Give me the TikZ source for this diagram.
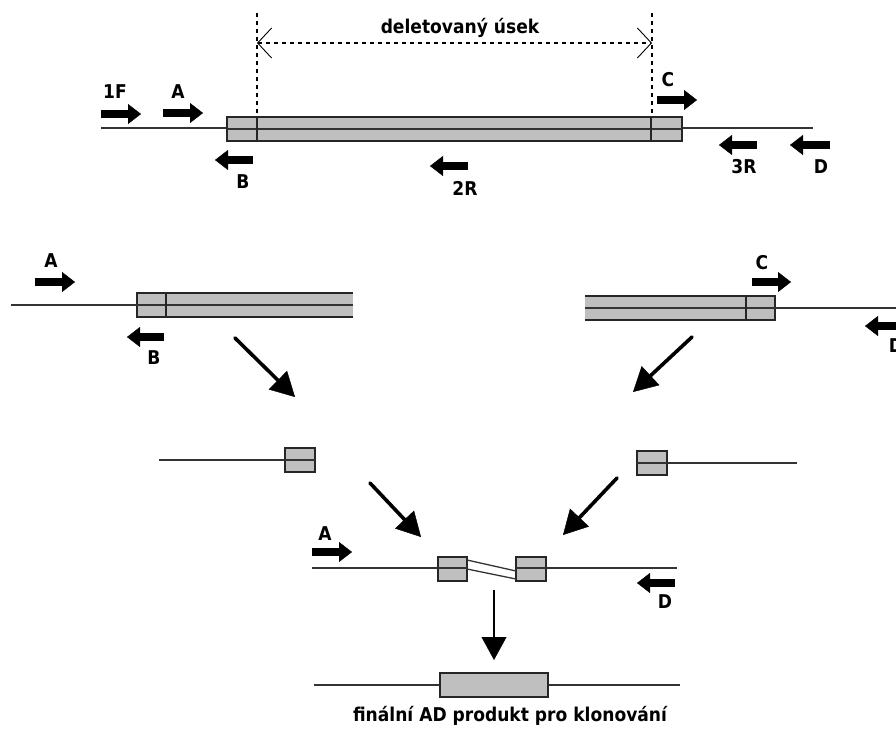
\documentclass[tikz,border=0pt]{standalone}
\usepackage{fontspec}
\setmainfont{DejaVu Sans}[FakeStretch=0.9]
\usetikzlibrary{arrows.meta}
\begin{document}
\begin{tikzpicture}[x=1pt,y=-1pt,
  dna/.style={line width=1.3pt, draw=black!80},
  seg/.style={fill=black!25, draw=black!85, line width=1.5pt},
  segline/.style={draw=black!85, line width=1.5pt},
  primer/.style={line width=8pt, -{Triangle[length=13pt,width=20pt,line width=0.4pt]}},
  lbl/.style={font=\bfseries\fontsize{19}{22}\selectfont, inner sep=0pt},
  bigarrow/.style={line width=3.6pt, line cap=round, -{Triangle[length=24pt,width=26pt,line width=0.4pt]}},
  dimline/.style={line width=1.1pt, dash pattern=on 4pt off 4pt}]
\useasboundingbox (0,0) rectangle (896,728);

% ---------- top: full gene ----------
\draw[dna] (101,128) -- (813,128);
\draw[seg] (227,117) rectangle (682,141);
\draw[dna] (227,129) -- (682,129);
\draw[segline] (257,117) -- (257,141);
\draw[segline] (651,117) -- (651,141);
\coordinate (dl) at (257,43);
\coordinate (dr) at (652,43);
\draw[dimline] (257,13) -- (257,117);
\draw[dimline] (652,13) -- (652,117);
\draw[dimline, {Straight Barb[length=14pt,width=30pt,line width=0.9pt]}-{Straight Barb[length=14pt,width=30pt,line width=0.9pt]}] (dl) -- (dr);
\node[lbl] (del) at (460,28) {deletovaný úsek};

\coordinate (p1Fa) at (101,114); \coordinate (p1Fb) at (141,114);
\coordinate (pAa) at (163,113);  \coordinate (pAb) at (203,113);
\coordinate (pBa) at (253,160);  \coordinate (pBb) at (215,160);
\coordinate (p2Ra) at (468,166); \coordinate (p2Rb) at (430,166);
\coordinate (pCa) at (657,100);  \coordinate (pCb) at (697,100);
\coordinate (p3Ra) at (757,145); \coordinate (p3Rb) at (719,145);
\coordinate (pDa) at (830,145);  \coordinate (pDb) at (790,145);
\draw[primer] (p1Fa) -- (p1Fb);
\draw[primer] (pAa) -- (pAb);
\draw[primer] (pBa) -- (pBb);
\draw[primer] (p2Ra) -- (p2Rb);
\draw[primer] (pCa) -- (pCb);
\draw[primer] (p3Ra) -- (p3Rb);
\draw[primer] (pDa) -- (pDb);
\node[lbl] (l1F) at (115,92) {1F};
\node[lbl] (lA) at (178,92) {A};
\node[lbl] (lB) at (243,182) {B};
\node[lbl] (l2R) at (465,188) {2R};
\node[lbl] (lC) at (668,80) {C};
\node[lbl] (l3R) at (744,167) {3R};
\node[lbl] (lD) at (821,167) {D};

% ---------- second row: PCR products ----------
\draw[fill=black!25, draw=none] (137,293) rectangle (353,317);
\draw[segline] (353,293) -- (137,293) -- (137,317) -- (353,317);
\draw[dna] (11,305) -- (353,305);
\draw[segline] (166,293) -- (166,317);
\coordinate (qAa) at (35,282);  \coordinate (qAb) at (75,282);
\coordinate (qBa) at (164,337); \coordinate (qBb) at (127,337);
\draw[primer] (qAa) -- (qAb);
\draw[primer] (qBa) -- (qBb);
\node[lbl] (mA) at (51,261) {A};
\node[lbl] (mB) at (154,358) {B};

\draw[fill=black!25, draw=none] (585,296) rectangle (775,320);
\draw[segline] (585,296) -- (775,296) -- (775,320) -- (585,320);
\draw[dna] (585,308) -- (896,308);
\draw[segline] (746,296) -- (746,320);
\coordinate (qCa) at (752,282); \coordinate (qCb) at (791,282);
\coordinate (qDa) at (910,326); \coordinate (qDb) at (865,326);
\draw[primer] (qCa) -- (qCb);
\draw[primer] (qDa) -- (qDb);
\node[lbl] (mC) at (762,263) {C};
\node[lbl] (mD) at (896,346) {D};

% ---------- arrows to third row ----------
\coordinate (a1s) at (235,338); \coordinate (a1e) at (295,397);
\coordinate (a2s) at (692,337); \coordinate (a2e) at (633,392);
\coordinate (a3s) at (370,483); \coordinate (a3e) at (421,537);
\coordinate (a4s) at (617,478); \coordinate (a4e) at (563,535);
\draw[bigarrow] (a1s) -- (a1e);
\draw[bigarrow] (a2s) -- (a2e);
\draw[bigarrow] (a3s) -- (a3e);
\draw[bigarrow] (a4s) -- (a4e);

% ---------- third row: trimmed pieces ----------
\draw[dna] (159,460) -- (285,460);
\draw[seg] (285,448) rectangle (315,472);
\draw[dna] (285,460) -- (315,460);

\draw[dna] (667,463) -- (797,463);
\draw[seg] (637,451) rectangle (667,475);
\draw[dna] (637,463) -- (667,463);

% ---------- fourth row: fusion ----------
\draw[dna] (312,568) -- (438,568);
\draw[dna] (546,568) -- (677,568);
\draw[seg] (438,557) rectangle (467,581);
\draw[dna] (438,568) -- (467,568);
\draw[seg] (516,557) rectangle (546,581);
\draw[dna] (516,568) -- (546,568);
\draw[dna] (467,560) -- (516,571);
\draw[dna] (467,569) -- (516,579);
\coordinate (rAa) at (312,552); \coordinate (rAb) at (352,552);
\coordinate (rDa) at (675,583); \coordinate (rDb) at (637,583);
\draw[primer] (rAa) -- (rAb);
\draw[primer] (rDa) -- (rDb);
\node[lbl] (nA) at (325,534) {A};
\node[lbl] (nD) at (665,602) {D};

\coordinate (ds) at (494,590); \coordinate (de) at (494,660);
\draw[line width=2.6pt, -{Triangle[length=23pt,width=25pt,line width=0.4pt]}] (ds) -- (de);

% ---------- final product ----------
\draw[dna] (314,685) -- (680,685);
\draw[seg] (440,673) rectangle (548,697);
\node[lbl] (fin) at (510,716) {finální AD produkt pro klonování};
\end{tikzpicture}
\end{document}
